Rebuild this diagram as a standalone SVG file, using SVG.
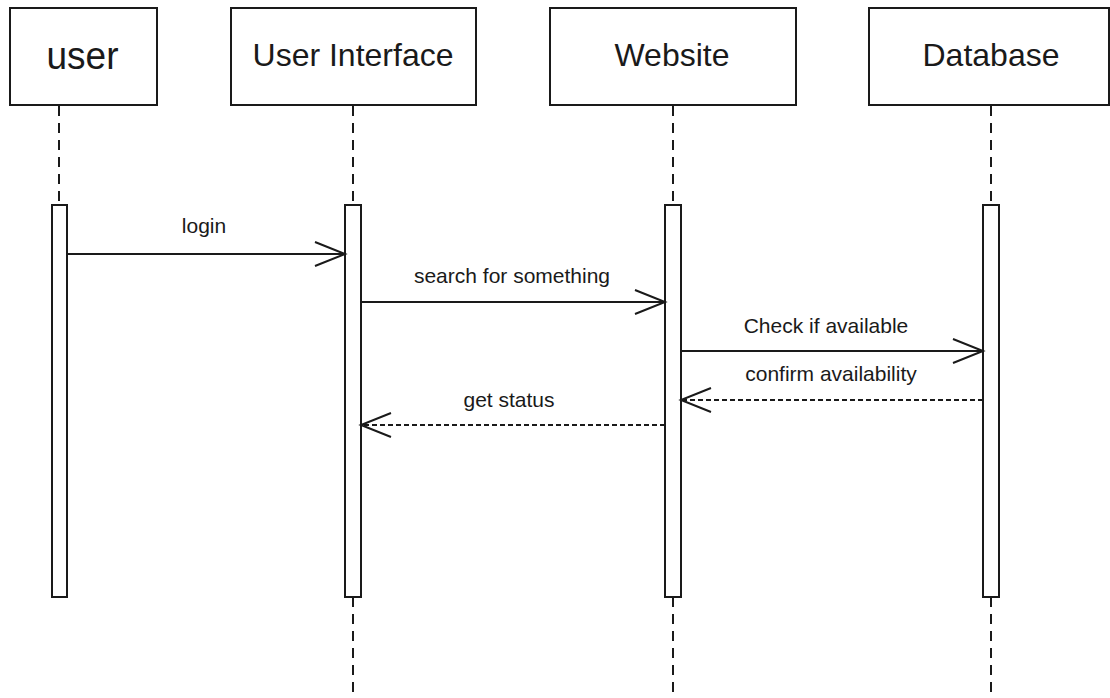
<svg xmlns="http://www.w3.org/2000/svg" width="1110" height="698" viewBox="0 0 1110 698">
<style>
.box{fill:#fff;stroke:#1a1a1a;stroke-width:2}
.bar{fill:#fff;stroke:#1a1a1a;stroke-width:2}
.life{stroke:#1a1a1a;stroke-width:2;stroke-dasharray:10 7;fill:none}
.msg{stroke:#1a1a1a;stroke-width:2;fill:none}
.ret{stroke:#1a1a1a;stroke-width:2;fill:none;stroke-dasharray:5 3}
.title{font-family:"Liberation Sans",Arial,sans-serif;font-size:32px;fill:#1a1a1a;text-anchor:middle}
.lbl{font-family:"Liberation Sans",Arial,sans-serif;font-size:21px;fill:#1a1a1a;text-anchor:middle}
</style>
<defs>
<marker id="open" viewBox="-2 -2 34 28" markerWidth="34" markerHeight="28" refX="30" refY="12" orient="auto" markerUnits="userSpaceOnUse" overflow="visible">
<path d="M0,0 L30,12 L0,24" fill="none" stroke="#1a1a1a" stroke-width="2" stroke-dasharray="none"/>
</marker>
</defs>
<rect width="1110" height="698" fill="#fff"/>
<g id="lifelines">
<line class="life" x1="59" y1="106" x2="59" y2="205"/>
<line class="life" x1="353" y1="106" x2="353" y2="205"/>
<line class="life" x1="353" y1="597" x2="353" y2="698"/>
<line class="life" x1="673" y1="106" x2="673" y2="205"/>
<line class="life" x1="673" y1="597" x2="673" y2="698"/>
<line class="life" x1="991" y1="106" x2="991" y2="205"/>
<line class="life" x1="991" y1="597" x2="991" y2="698"/>
</g>
<g id="user">
<rect class="box" x="10" y="8" width="147" height="97"/>
<text class="title" x="82.5" y="69" font-size="39" style="font-size:39px" textLength="72" lengthAdjust="spacingAndGlyphs">user</text>
<rect class="bar" x="52" y="205" width="15" height="392"/>
</g>
<g id="user-interface">
<rect class="box" x="231" y="8" width="245" height="97"/>
<text class="title" x="353" y="66">User Interface</text>
<rect class="bar" x="345" y="205" width="16" height="392"/>
</g>
<g id="website">
<rect class="box" x="550" y="8" width="246" height="97"/>
<text class="title" x="672" y="66">Website</text>
<rect class="bar" x="665" y="205" width="16" height="392"/>
</g>
<g id="database">
<rect class="box" x="869" y="8" width="240" height="97"/>
<text class="title" x="991" y="66">Database</text>
<rect class="bar" x="983" y="205" width="16" height="392"/>
</g>
<g id="connectors">
<line class="msg" x1="67" y1="254" x2="345" y2="254" marker-end="url(#open)"/>
<text class="lbl" x="204" y="233">login</text>
<line class="msg" x1="361" y1="302" x2="665" y2="302" marker-end="url(#open)"/>
<text class="lbl" x="512" y="283">search for something</text>
<line class="msg" x1="681" y1="351" x2="983" y2="351" marker-end="url(#open)"/>
<text class="lbl" x="826" y="333">Check if available</text>
<line class="ret" x1="983" y1="400" x2="681" y2="400" marker-end="url(#open)"/>
<text class="lbl" x="831" y="381">confirm availability</text>
<line class="ret" x1="665" y1="425" x2="361" y2="425" marker-end="url(#open)"/>
<text class="lbl" x="509" y="407">get status</text>
</g>
</svg>
